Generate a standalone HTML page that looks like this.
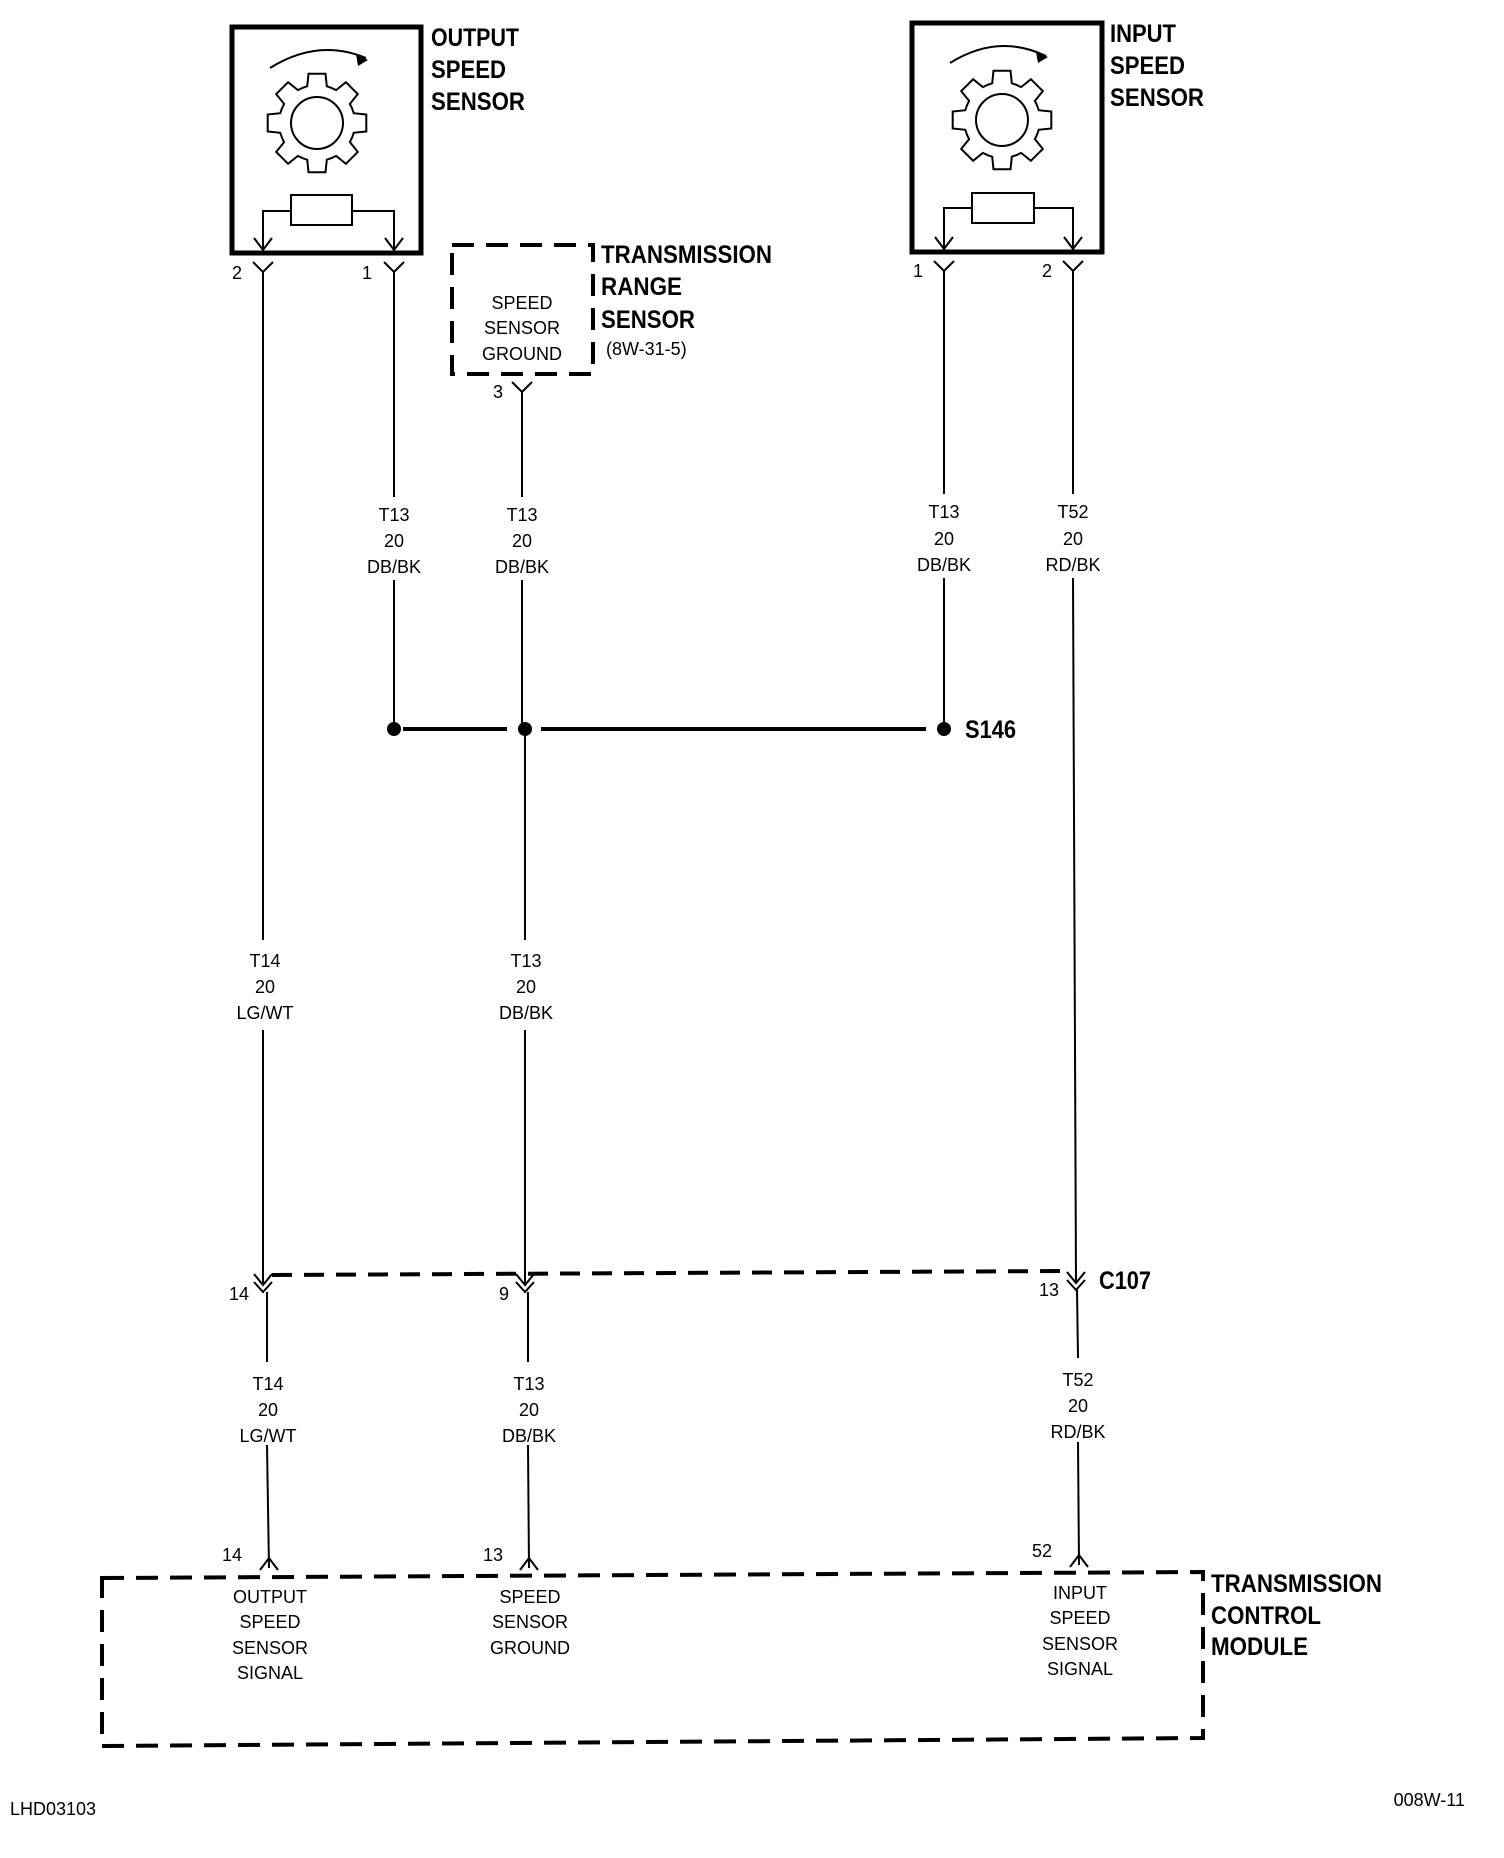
<!DOCTYPE html>
<html><head><meta charset="utf-8"><style>
html,body{margin:0;padding:0;background:#fff}
svg{display:block}
text{font-family:"Liberation Sans",Arial,sans-serif;fill:#000}
.b{font-weight:bold;font-size:25px}
.s{font-size:18px}
</style></head><body>
<svg id="s" width="1504" height="1858" viewBox="0 0 1504 1858" xmlns="http://www.w3.org/2000/svg">
<g fill="none" stroke="#000" stroke-width="2">
<!-- output sensor box -->
<rect x="232" y="27" width="189" height="226" stroke-width="5"/>
<rect x="291" y="195" width="61" height="30"/>
<polyline points="263,253 263,211 291,211"/>
<polyline points="352,211 394,211 394,253"/>
<path d="M270 68 Q318 38 366 58"/>
<path d="M254 238 L263 250 L272 238 M385 238 L394 250 L403 238"/>
<circle id="c1" cx="317" cy="123" r="26"/>
<path id="g1"/>
<!-- input sensor box -->
<rect x="912" y="23" width="190" height="229" stroke-width="5"/>
<rect x="972" y="193" width="62" height="30"/>
<polyline points="944,252 944,208 972,208"/>
<polyline points="1034,208 1073,208 1073,252"/>
<path d="M950 63 Q998 33 1046 56"/>
<path d="M935 237 L944 249 L953 237 M1064 237 L1073 249 L1082 237"/>
<circle cx="1002" cy="120" r="26"/>
<path id="g2"/>
<!-- connectors under sensors -->
<path d="M253 262 L263 272 L273 262 M384 262 L394 272 L404 262 M934 261 L944 271 L954 261 M1063 261 L1073 271 L1083 261 M512 382 L522 392 L532 382"/>
<!-- TRS dashed box -->
<rect x="452" y="245" width="141" height="129" stroke-width="4" stroke-dasharray="22,12"/>
<!-- wires -->
<line x1="263" y1="272" x2="263" y2="940"/>
<line x1="263" y1="1030" x2="263" y2="1285"/>
<line x1="394" y1="272" x2="394" y2="497"/>
<line x1="394" y1="580" x2="394" y2="729"/>
<line x1="522" y1="392" x2="522" y2="497"/>
<line x1="522" y1="580" x2="522" y2="729"/>
<line x1="525" y1="729" x2="525" y2="940"/>
<line x1="525" y1="1030" x2="525" y2="1285"/>
<line x1="944" y1="271" x2="944" y2="494"/>
<line x1="944" y1="578" x2="944" y2="729"/>
<line x1="1073" y1="271" x2="1073" y2="494"/>
<line x1="1073" y1="578" x2="1076" y2="1283"/>
<!-- splice -->
<line x1="403" y1="729" x2="507" y2="729" stroke-width="4"/>
<line x1="541" y1="729" x2="926" y2="729" stroke-width="4"/>
<!-- C107 -->
<line x1="272" y1="1275" x2="1066" y2="1271" stroke-width="4" stroke-dasharray="20,12"/>
<path d="M254 1274 L263 1285 L272 1274 M254 1282 L263 1292 L272 1282 M516 1274 L525 1285 L534 1274 M516 1282 L525 1292 L534 1282 M1067 1272 L1076 1283 L1085 1272 M1067 1280 L1076 1290 L1085 1280"/>
<line x1="267" y1="1292" x2="267" y2="1362"/>
<line x1="267" y1="1445" x2="269" y2="1568"/>
<line x1="528" y1="1292" x2="528" y2="1362"/>
<line x1="528" y1="1445" x2="529" y2="1568"/>
<line x1="1077" y1="1290" x2="1078" y2="1358"/>
<line x1="1078" y1="1442" x2="1079" y2="1565"/>
<path d="M260 1570 L269 1558 L278 1570 M520 1570 L529 1558 L538 1570 M1070 1567 L1079 1555 L1088 1567"/>
<!-- TCM dashed -->
<polygon points="102,1578 1203,1572 1203,1738 102,1746" stroke-width="4" stroke-dasharray="22,12"/>
</g>
<g fill="#000">
<circle cx="394" cy="729" r="7"/><circle cx="525" cy="729" r="7"/><circle cx="944" cy="729" r="7"/>
<path d="M356 54 L368 60 L358 66 Z"/><path d="M1036 52 L1048 57 L1038 63 Z"/>
</g>
<g class="b">
<text x="431" y="46" textLength="88" lengthAdjust="spacingAndGlyphs">OUTPUT</text>
<text x="431" y="78" textLength="75" lengthAdjust="spacingAndGlyphs">SPEED</text>
<text x="431" y="110" textLength="94" lengthAdjust="spacingAndGlyphs">SENSOR</text>
<text x="1110" y="42" textLength="66" lengthAdjust="spacingAndGlyphs">INPUT</text>
<text x="1110" y="74" textLength="75" lengthAdjust="spacingAndGlyphs">SPEED</text>
<text x="1110" y="106" textLength="94" lengthAdjust="spacingAndGlyphs">SENSOR</text>
<text x="601" y="263" textLength="171" lengthAdjust="spacingAndGlyphs">TRANSMISSION</text>
<text x="601" y="295" textLength="81" lengthAdjust="spacingAndGlyphs">RANGE</text>
<text x="601" y="328" textLength="94" lengthAdjust="spacingAndGlyphs">SENSOR</text>
<text x="965" y="738" textLength="51" lengthAdjust="spacingAndGlyphs">S146</text>
<text x="1099" y="1289" textLength="52" lengthAdjust="spacingAndGlyphs">C107</text>
<text x="1211" y="1592" textLength="171" lengthAdjust="spacingAndGlyphs">TRANSMISSION</text>
<text x="1211" y="1624" textLength="110" lengthAdjust="spacingAndGlyphs">CONTROL</text>
<text x="1211" y="1655" textLength="97" lengthAdjust="spacingAndGlyphs">MODULE</text>
</g>
<g class="s" text-anchor="middle">
<text x="522" y="309">SPEED</text><text x="522" y="334">SENSOR</text><text x="522" y="360">GROUND</text>
<text x="394" y="521">T13</text><text x="394" y="547">20</text><text x="394" y="573">DB/BK</text>
<text x="522" y="521">T13</text><text x="522" y="547">20</text><text x="522" y="573">DB/BK</text>
<text x="944" y="518">T13</text><text x="944" y="545">20</text><text x="944" y="571">DB/BK</text>
<text x="1073" y="518">T52</text><text x="1073" y="545">20</text><text x="1073" y="571">RD/BK</text>
<text x="265" y="967">T14</text><text x="265" y="993">20</text><text x="265" y="1019">LG/WT</text>
<text x="526" y="967">T13</text><text x="526" y="993">20</text><text x="526" y="1019">DB/BK</text>
<text x="268" y="1390">T14</text><text x="268" y="1416">20</text><text x="268" y="1442">LG/WT</text>
<text x="529" y="1390">T13</text><text x="529" y="1416">20</text><text x="529" y="1442">DB/BK</text>
<text x="1078" y="1386">T52</text><text x="1078" y="1412">20</text><text x="1078" y="1438">RD/BK</text>
<text x="270" y="1603">OUTPUT</text><text x="270" y="1628">SPEED</text><text x="270" y="1654">SENSOR</text><text x="270" y="1679">SIGNAL</text>
<text x="530" y="1603">SPEED</text><text x="530" y="1628">SENSOR</text><text x="530" y="1654">GROUND</text>
<text x="1080" y="1599">INPUT</text><text x="1080" y="1624">SPEED</text><text x="1080" y="1650">SENSOR</text><text x="1080" y="1675">SIGNAL</text>
<text x="237" y="279">2</text><text x="367" y="279">1</text><text x="918" y="277">1</text><text x="1047" y="277">2</text>
<text x="498" y="398">3</text>
<text x="239" y="1300">14</text><text x="504" y="1300">9</text><text x="1049" y="1296">13</text>
<text x="232" y="1561">14</text><text x="493" y="1561">13</text><text x="1042" y="1557">52</text>
</g>
<text class="s" x="606" y="355">(8W-31-5)</text>
<text class="s" x="10" y="1815">LHD03103</text>
<text class="s" x="1465" y="1806" text-anchor="end">008W-11</text>
</svg>
<script>
function gear(cx,cy){var R=50,r=38,n=8,d="";for(var i=0;i<n;i++){var a=i*2*Math.PI/n,w=0.17,w2=0.26;var pts=[[r,a-w2*1.0-0.14],[r,a-w2],[R,a-w],[R,a+w],[r,a+w2]];pts.forEach(function(p,j){var x=cx+p[0]*Math.sin(p[1]),y=cy-p[0]*Math.cos(p[1]);d+=(i==0&&j==0?"M":"L")+x.toFixed(1)+" "+y.toFixed(1)+" ";});}return d+"Z";}
document.getElementById("g1").setAttribute("d",gear(317,123));
document.getElementById("g2").setAttribute("d",gear(1002,120));
</script>
</body></html>
